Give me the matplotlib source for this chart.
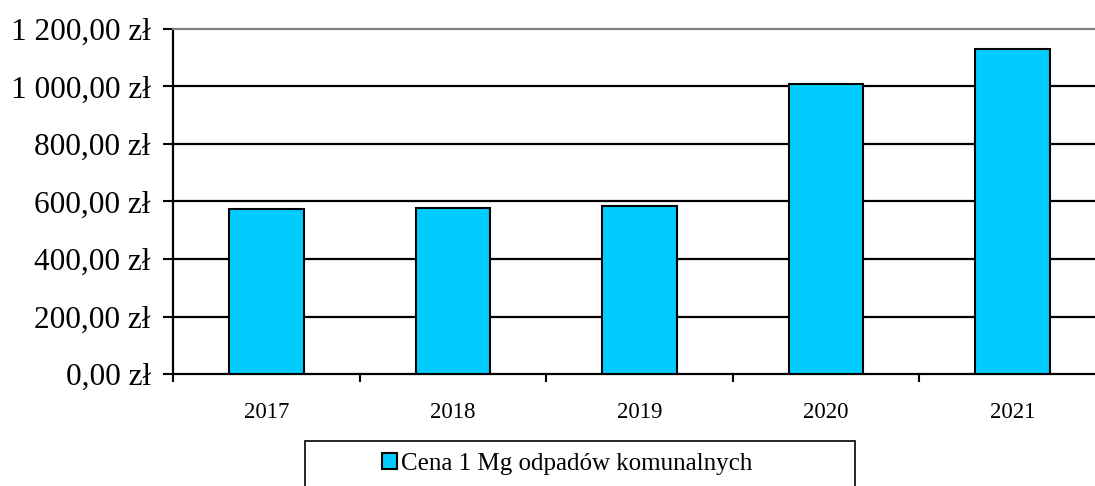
import matplotlib.pyplot as plt
from matplotlib.patches import Rectangle, Patch
from matplotlib.ticker import FuncFormatter, FixedLocator

plt.rcParams['font.family'] = ['Liberation Serif', 'DejaVu Serif']

# dane
lata = ['2017', '2018', '2019', '2020', '2021']
ceny = [574, 577, 584, 1009, 1130]
y_ticki = [0, 200, 400, 600, 800, 1000, 1200]
etykieta = 'Cena 1 Mg odpadów komunalnych'

kolor = '#00CCFF'

W, H = 1095, 486
fig = plt.figure(figsize=(W / 100, H / 100), dpi=100)
# obszar wykresu (piksele -> ulamki figury)
x0, x1 = 173, 1106
y_top, y_bot = 29, 374
ax = fig.add_axes([x0 / W, 1 - y_bot / H, (x1 - x0) / W, (y_bot - y_top) / H])

pos = range(len(lata))
ax.bar(pos, ceny, width=0.40, color=kolor, edgecolor='black', linewidth=1.5, zorder=3)

ax.set_xlim(-0.5, len(lata) - 0.5)
ax.set_ylim(0, 1200)


def zl(v, _):
    s = f'{v:,.2f}'.replace(',', ' ').replace('.', ',')
    return s + ' zł'


ax.yaxis.set_major_locator(FixedLocator(y_ticki))
ax.yaxis.set_major_formatter(FuncFormatter(zl))
ax.set_xticks(list(pos))
ax.set_xticklabels(lata)
ax.tick_params(axis='x', length=0, labelsize=16.5, pad=20)
ax.set_xticks([p - 0.5 for p in pos] + [len(lata) - 0.5], minor=True)
ax.tick_params(axis='x', which='minor', direction='out', length=6, width=1.5, color='black')
ax.tick_params(axis='y', direction='out', length=7, width=1.5, labelsize=22.5, pad=9)

for v in y_ticki[1:-1]:
    ax.axhline(v, color='black', linewidth=1.6, zorder=1)

for s in ['left', 'bottom']:
    ax.spines[s].set_linewidth(1.6)
    ax.spines[s].set_color('black')
ax.spines['right'].set_visible(False)
ax.spines['top'].set_color('#808080')
ax.spines['top'].set_linewidth(1.6)

# legenda
fig.patches.append(Rectangle((305 / W, 1 - 500 / H), 550 / W, 59 / H,
                             transform=fig.transFigure, facecolor='white',
                             edgecolor='black', linewidth=1.2))
uchwyt = Patch(facecolor=kolor, edgecolor='black', linewidth=1.5)
fig.legend([uchwyt], [etykieta], loc='center', bbox_to_anchor=(567 / W, 1 - 464 / H),
           frameon=False, prop={'family': 'Liberation Serif', 'size': 18},
           handlelength=0.6, handleheight=0.6, handletextpad=0.15)

fig.savefig('out.png', dpi=100)
